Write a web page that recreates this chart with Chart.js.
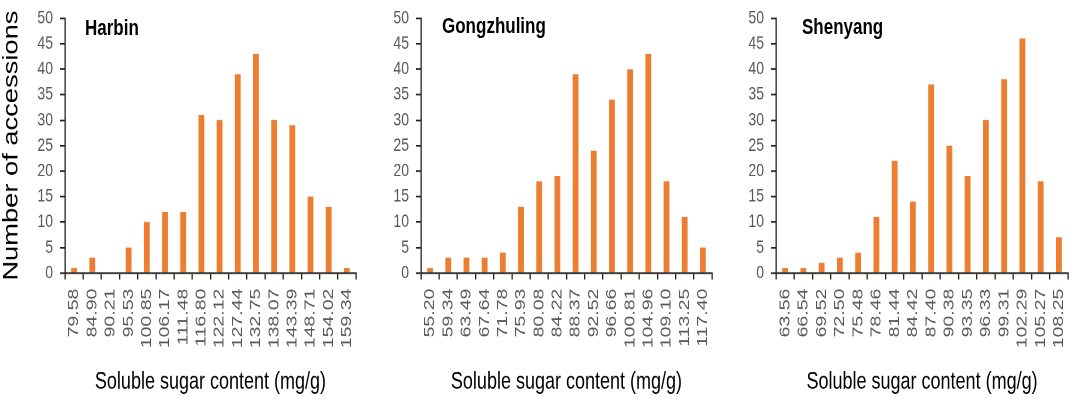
<!DOCTYPE html>
<html>
<head>
<meta charset="utf-8">
<script src="https://cdn.jsdelivr.net/npm/chart.js@4"></script>
<style>
  html,body{margin:0;padding:0;background:#fff;}
  #wrap{position:relative;width:1084px;height:406px;overflow:hidden;}
  /* the source figure is stretched vertically, so each panel is drawn short and scaled up */
  .panel{position:absolute;top:0;height:312px;transform:scaleY(1.3);transform-origin:0 0;}
  .ttl{position:absolute;font-family:"Liberation Sans",Arial,sans-serif;font-weight:bold;font-size:17px;color:#000;line-height:1;}
</style>
</head>
<body>
<div id="wrap">
  <div class="panel" style="left:0;width:372px"><canvas id="c1"></canvas><div class="ttl" style="left:85px;top:13px">Harbin</div></div>
  <div class="panel" style="left:372px;width:356px"><canvas id="c2"></canvas><div class="ttl" style="left:70px;top:11px">Gongzhuling</div></div>
  <div class="panel" style="left:728px;width:356px"><canvas id="c3"></canvas><div class="ttl" style="left:74px;top:12px">Shenyang</div></div>
</div>
<script>
// bin labels (mg/g) and counts per site
const harbinBins=['79.58','84.90','90.21','95.53','100.85','106.17','111.48','116.80','122.12','127.44','132.75','138.07','143.39','148.71','154.02','159.34'];
const harbinCounts=[1,3,0,5,10,12,12,31,30,39,43,30,29,15,13,1];

const gongBins=['55.20','59.34','63.49','67.64','71.78','75.93','80.08','84.22','88.37','92.52','96.66','100.81','104.96','109.10','113.25','117.40'];
const gongCounts=[1,3,3,3,4,13,18,19,39,24,34,40,43,18,11,5];

const shenBins=['63.56','66.54','69.52','72.50','75.48','78.46','81.44','84.42','87.40','90.38','93.35','96.33','99.31','102.29','105.27','108.25'];
const shenCounts=[1,1,2,3,4,11,22,14,37,25,19,30,38,46,18,7];

const xTitle='Soluble sugar content (mg/g)';
const yTitle='Number of accessions';

const ORANGE='#ED7D31';
const GREY='#595959';
const FONT='"Liberation Sans", Arial, sans-serif';

function makeChart(id,labels,counts,yW,padR,showYTitle){
  new Chart(document.getElementById(id),{
    type:'bar',
    data:{labels,datasets:[{data:counts,backgroundColor:ORANGE,barPercentage:0.32,categoryPercentage:1}]},
    options:{
      responsive:true,maintainAspectRatio:false,animation:false,devicePixelRatio:2,
      layout:{padding:{top:11.5,right:padR,bottom:0,left:0}},
      plugins:{legend:{display:false},tooltip:{enabled:false}},
      scales:{
        x:{
          grid:{display:true,drawOnChartArea:false,drawTicks:true,tickLength:5,color:'#222',lineWidth:1.3,offset:true},
          border:{display:true,color:'#222',width:1.3},
          ticks:{color:GREY,font:{family:FONT,size:15},minRotation:90,maxRotation:90,autoSkip:false,padding:7},
          title:{display:true,text:xTitle,color:'#000',font:{family:FONT,size:18},padding:{top:0,bottom:7}},
          afterFit:s=>{s.height=102;}
        },
        y:{
          min:0,max:50,
          grid:{display:true,drawOnChartArea:false,drawTicks:true,tickLength:5,color:'#222',lineWidth:1.3},
          border:{display:true,color:'#222',width:1.3},
          ticks:{stepSize:5,autoSkip:false,color:GREY,font:{family:FONT,size:14,lineHeight:1},padding:7},
          title:{display:showYTitle,text:yTitle,color:'#000',font:{family:FONT,size:21,lineHeight:1},padding:{top:1,bottom:0}},
          afterFit:s=>{s.width=yW;}
        }
      }
    }
  });
}

makeChart('c1',harbinBins,harbinCounts,65,4,true);
makeChart('c2',gongBins,gongCounts,49,4,false);
makeChart('c3',shenBins,shenCounts,48,3,false);
</script>
</body>
</html>
